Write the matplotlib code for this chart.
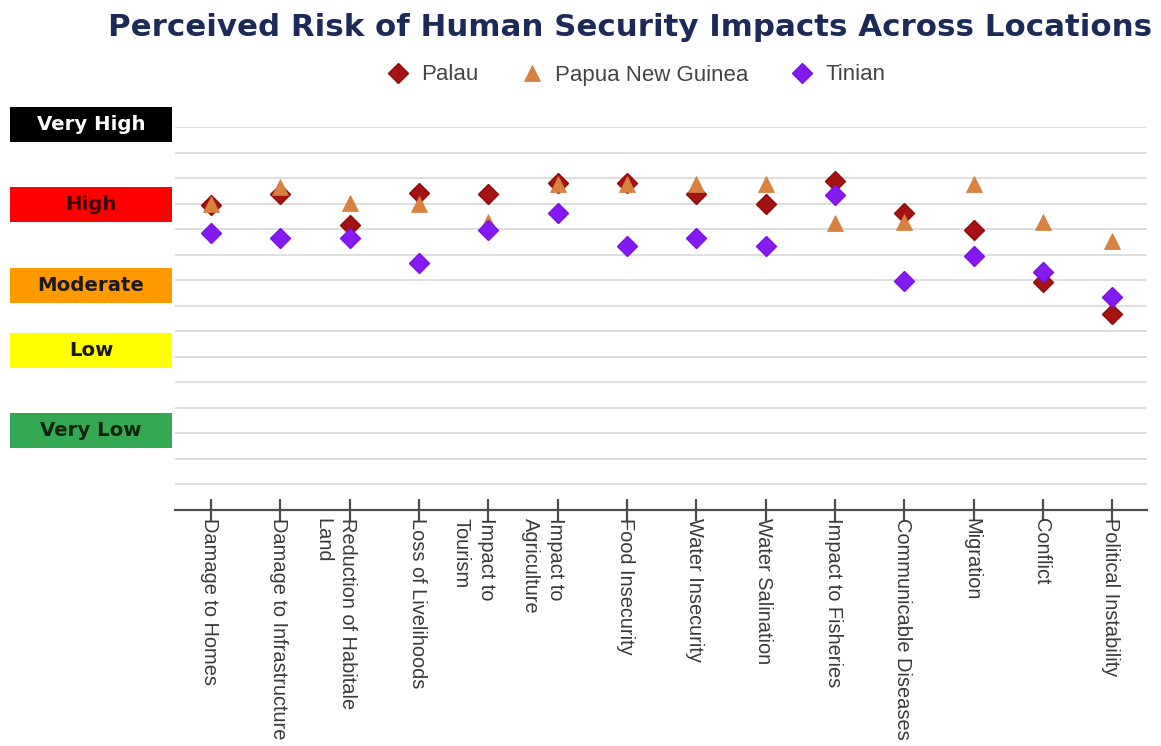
import matplotlib
matplotlib.use("Agg")
import matplotlib.pyplot as plt
from matplotlib.patches import Rectangle
from matplotlib.ticker import MultipleLocator
from matplotlib.transforms import ScaledTranslation

# Impact categories (x axis)
categories = [
    "Damage to Homes", "Damage to Infrastructure", "Reduction of Habitale\nLand",
    "Loss of Livelihoods", "Impact to\nTourism", "Impact to\nAgriculture",
    "Food Insecurity", "Water Insecurity", "Water Salination",
    "Impact to Fisheries", "Communicable Diseases", "Migration", "Conflict",
    "Political Instability",
]

# Mean perceived risk per location (1 = Very Low ... 5 = Very High)
palau = [3.98, 4.13, 3.72, 4.14, 4.13, 4.27, 4.27, 4.13, 3.99, 4.29, 3.88, 3.66, 2.98, 2.56]
png = [4.00, 4.22, 4.01, 4.00, 3.76, 4.25, 4.25, 4.26, 4.26, 3.75, 3.76, 4.26, 3.76, 3.51]
tinian = [3.62, 3.55, 3.55, 3.22, 3.66, 3.88, 3.44, 3.55, 3.44, 4.11, 2.99, 3.32, 3.11, 2.78]

series_names = ["Palau", "Papua New Guinea", "Tinian"]

# Risk scale labels shown as coloured badges on the left
level_names = ["Very High", "High", "Moderate", "Low", "Very Low"]
level_colors = ["#000000", "#FF0000", "#FF9900", "#FFFF00", "#34A853"]
level_text_colors = ["#FFFFFF", "#3A0505", "#1A1A1A", "#1A1A1A", "#0E2410"]

W, H = 1161, 746
fig = plt.figure(figsize=(W / 100, H / 100), dpi=100)
fig.patch.set_facecolor("white")

def fx(px):
    return px / W

def fy(py):
    return 1 - py / H

ax = fig.add_axes([fx(175), fy(510), fx(1147) - fx(175), fy(127) - fy(510)])
ax.set_xlim(-0.52, 13.5)
ax.set_ylim(0, 5)

# Light horizontal grid every third of a level
ax.yaxis.set_major_locator(MultipleLocator(1 / 3))
ax.grid(axis="y", color="#dedede", linewidth=1.4)
ax.set_axisbelow(True)
ax.tick_params(axis="y", left=False, labelleft=False)
for side in ("left", "right", "top"):
    ax.spines[side].set_visible(False)
ax.spines["bottom"].set_color("#4d4d4d")
ax.spines["bottom"].set_linewidth(1.6)

x = list(range(len(categories)))
ax.set_xticks(x)
ax.set_xticklabels([])
ax.tick_params(axis="x", direction="inout", length=16, width=1.6,
               color="#4d4d4d")

# Category labels: read top-to-bottom, first line centred on its tick,
# continuation lines stacked to the left
line_step = 0.25   # inches between wrapped lines
label_gap = 0.08   # inches below the axis line
for i, label in enumerate(categories):
    for j, line in enumerate(label.split("\n")):
        tr = ax.get_xaxis_transform() + ScaledTranslation(
            -j * line_step, -label_gap, fig.dpi_scale_trans)
        ax.text(i, 0, line, transform=tr, rotation=270, rotation_mode="anchor",
                ha="left", va="center_baseline", fontsize=14.4,
                color="#3a3a3a", family="Liberation Sans", clip_on=False)

ax.plot(x, palau, linestyle="none", marker="D", markersize=10,
        color="#A51212", markeredgecolor="#8E0C0C", markeredgewidth=1,
        label=series_names[0], zorder=3, clip_on=False)
ax.plot(x, png, linestyle="none", marker="^", markersize=11.5,
        color="#D9823F", markeredgecolor="#D07A38", markeredgewidth=0.5,
        label=series_names[1], zorder=4, clip_on=False)
ax.plot(x, tinian, linestyle="none", marker="D", markersize=10,
        color="#8419F0", markeredgecolor="#7A12E6", markeredgewidth=1,
        label=series_names[2], zorder=5, clip_on=False)

# Legend across the top
leg = fig.legend(loc="center", bbox_to_anchor=(fx(635), fy(75)), ncol=3,
                 frameon=False, handletextpad=0.45,
                 columnspacing=1.8, handlelength=1.2,
                 prop={"family": "Liberation Sans", "size": 16})
for t in leg.get_texts():
    t.set_color("#444444")

# Title
fig.text(fx(630), fy(27), "Perceived Risk of Human Security Impacts Across Locations",
         ha="center", va="center", fontsize=22.2, fontweight="bold",
         color="#1C2A5A", family="DejaVu Sans")

# Risk level badges
badge_tops = [107, 187, 268, 333, 413]
badge_h = 35
for name, col, tcol, top in zip(level_names, level_colors, level_text_colors, badge_tops):
    fig.patches.append(Rectangle((fx(10), fy(top + badge_h)), fx(172) - fx(10),
                                 fy(top) - fy(top + badge_h),
                                 transform=fig.transFigure, facecolor=col,
                                 edgecolor="none", zorder=1))
    fig.text(fx(91), fy(top + badge_h / 2), name, ha="center", va="center",
             fontsize=14.2, fontweight="bold", color=tcol, family="DejaVu Sans",
             zorder=2)

fig.savefig("out.png", dpi=100, facecolor="white")
